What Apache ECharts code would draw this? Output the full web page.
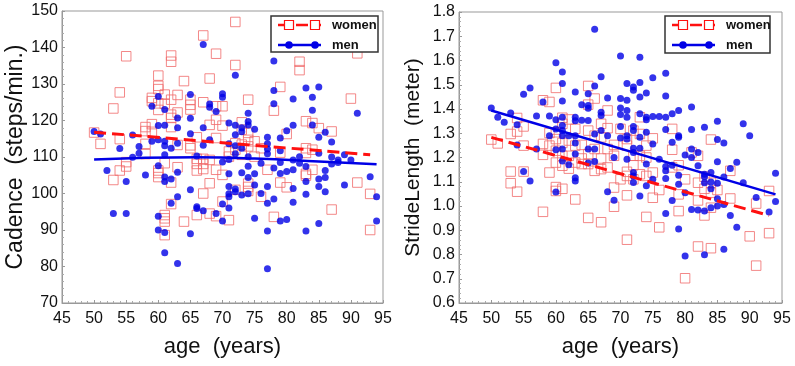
<!DOCTYPE html>
<html><head><meta charset="utf-8">
<script src="https://cdn.jsdelivr.net/npm/echarts@6/dist/echarts.min.js"></script>
<style>html,body{margin:0;padding:0;background:#fff}#c{width:795px;height:366px}</style>
</head><body><div id="c"></div>
<script>
const xTicks = [45,50,55,60,65,70,75,80,85,90,95];
const cadenceTicks = [70,80,90,100,110,120,130,140,150];
const strideTicks = [0.6,0.7,0.8,0.9,1.0,1.1,1.2,1.3,1.4,1.5,1.6,1.7,1.8];
const legendLabels = ['women','men'];

const cadenceMen = [[50,117],[51,116.3],[52,106.3],[53,94.5],[54,112.3],[55,103.3],[55,94.5],[56,109.9],[56,116],[57,112.9],[57,111],[58,105.1],[59,123.9],[59,114.3],[60,126.6],[60,118.6],[60,114.7],[60,107.6],[60,93.8],[60,90],[61,123],[61,118.7],[61,114.3],[61,113.1],[61,110.6],[61,104.5],[61,103.3],[61,89.3],[61,83.8],[62,112.4],[62,104],[62,97.3],[63,120.7],[63,118],[63,113.8],[63,105.8],[63,99.1],[63,80.8],[65,127.1],[65,120.6],[65,116.4],[65,101],[65,89],[66,110.3],[66,96.4],[66,95.9],[67,140.8],[67,118],[67,113.2],[67,95.3],[68,124.5],[68,123.6],[68,114.7],[69,122.5],[69,94.5],[70,127.3],[70,126.4],[70,108.6],[70,97.1],[70,92.5],[71,119.3],[71,113.6],[71,109.3],[71,105.4],[71,101.9],[71,99.9],[71,99.1],[71,96],[72,132.4],[72,118.7],[72,116.1],[72,113.1],[72,110.9],[72,101.2],[72,100.5],[73,118],[73,116.9],[73,112.4],[73,105.7],[73,99.6],[74,122],[74,119.7],[74,118.8],[74,110.1],[74,107.5],[74,104.4],[74,99.9],[75,117.6],[75,105.4],[75,102.3],[75,93.2],[76,108.3],[76,100],[77,115.4],[77,113.6],[77,112.2],[77,110.9],[77,101.9],[77,97.3],[77,89.7],[77,79.4],[78,136.3],[78,128.2],[78,124.6],[78,107],[78,98.5],[79,115.2],[79,111.7],[79,108.5],[79,105.5],[79,92.5],[80,117.2],[80,106],[80,92.9],[81,125.9],[81,118.7],[81,109.2],[81,106.5],[81,101.4],[81,97.6],[82,110.1],[82,108.3],[83,128.9],[83,107.4],[83,103.3],[83,99.8],[83,89.7],[84,126.4],[84,122.8],[84,118.8],[85,129.2],[85,115.4],[85,111],[85,104],[85,101.9],[85,91.8],[86,116.8],[86,106.3],[86,104.4],[86,100.5],[87,114.1],[87,110],[87,108.1],[88,109.2],[88,108.5],[89,110.6],[89,102.3],[90,109.2],[91,122],[93,104.6],[94,99.1],[94,92.5]];

const cadenceWomen = [[50,116.7],[51,113.6],[53,123.3],[53,103.7],[54,127.7],[54,114.9],[54,106.3],[55,137.6],[55,108.6],[55,107.4],[58,118.2],[58,117.1],[58,113.6],[58,110.8],[59,126.2],[59,125.3],[59,119],[59,116.9],[60,132.3],[60,129.5],[60,128.6],[60,124.7],[60,122.9],[60,106.3],[60,105.6],[60,104.5],[61,127.1],[61,124.6],[61,108.3],[61,94.1],[61,93.2],[61,92.3],[61,88.6],[62,137.8],[62,136.1],[62,125.7],[62,121.6],[62,120.7],[62,118.2],[62,103],[62,97.1],[63,127],[63,122.2],[63,113.3],[63,107.2],[64,130.8],[64,92.3],[65,125.7],[65,124.3],[65,123],[65,113.2],[65,112.4],[66,115.4],[66,109.5],[66,108.1],[66,106.3],[66,94.1],[67,143.3],[67,125],[67,109.5],[67,108.1],[67,106.7],[67,100],[68,131.5],[68,118.8],[68,109.2],[68,102.8],[68,94.5],[69,138.3],[69,123.9],[69,120.2],[69,115.2],[69,106.5],[69,93.8],[70,123.9],[70,118.6],[70,105.1],[70,97.8],[71,111.5],[71,110.1],[71,92.7],[72,147],[72,135.2],[72,113.8],[72,112],[72,101],[73,119.5],[73,117.5],[73,113.4],[73,110.6],[74,125.7],[74,116.6],[74,114.7],[74,112.9],[74,102.7],[74,101.8],[74,100.7],[75,114.3],[75,110.1],[76,112.4],[76,99.1],[77,106.5],[78,122.7],[78,93.6],[79,129.2],[79,111.2],[79,103],[80,116.3],[80,101.7],[82,136.1],[82,133.8],[83,119.8],[83,112.4],[83,111.1],[83,105.4],[83,104.9],[84,119.3],[84,112],[84,106.5],[85,117.9],[87,117],[87,95.6],[90,126],[91,138.4],[91,103],[93,99.9],[93,90]];

const strideMen = [[50,1.404],[51,1.366],[52,1.345],[53,1.383],[54,1.335],[54,1.252],[55,1.461],[55,1.142],[56,1.487],[56,1.103],[57,1.371],[57,1.235],[58,1.429],[59,1.371],[59,1.29],[60,1.591],[60,1.356],[60,1.318],[60,1.232],[60,1.058],[61,1.553],[61,1.505],[61,1.433],[61,1.366],[61,1.332],[61,1.311],[61,1.29],[61,1.235],[61,1.186],[62,1.29],[62,1.17],[63,1.47],[63,1.366],[63,1.352],[63,1.29],[63,1.26],[63,1.214],[63,1.117],[63,1.103],[64,1.418],[64,1.354],[65,1.463],[65,1.414],[65,1.403],[65,1.353],[65,1.235],[65,1.177],[66,1.729],[66,1.495],[66,1.297],[66,1.235],[66,1.184],[67,1.533],[67,1.387],[67,1.373],[67,1.311],[68,1.445],[68,1.29],[68,1.059],[69,1.2],[69,1.024],[70,1.619],[70,1.443],[70,1.404],[70,1.377],[70,1.328],[70,1.28],[71,1.505],[71,1.436],[71,1.394],[71,1.366],[71,1.29],[71,1.276],[71,1.193],[72,1.491],[72,1.477],[72,1.328],[72,1.311],[72,1.238],[72,1.221],[72,1.138],[72,1.124],[72,1.097],[73,1.613],[73,1.509],[73,1.45],[73,1.38],[73,1.283],[73,1.238],[73,1.041],[74,1.466],[74,1.366],[74,1.356],[74,1.304],[74,1.173],[74,1.083],[75,1.529],[75,1.369],[75,1.256],[75,1.11],[76,1.369],[76,1.193],[77,1.547],[77,1.454],[77,1.366],[77,1.315],[77,1.163],[77,1.145],[77,1.113],[77,0.969],[78,1.38],[78,1.263],[78,1.168],[78,1.023],[79,1.394],[79,1.29],[79,1.283],[79,1.127],[79,1.09],[79,0.905],[80,1.21],[80,1.055],[80,0.794],[81,1.408],[81,1.315],[81,1.235],[81,1.2],[81,0.986],[82,1.221],[82,1.166],[82,0.983],[83,1.325],[83,1.131],[83,1.121],[83,1.096],[83,0.979],[83,0.799],[84,1.138],[84,1.099],[84,1.071],[84,0.993],[85,1.349],[85,1.274],[85,1.182],[85,1.094],[85,1.03],[85,1.0],[86,1.26],[86,1.12],[86,1.006],[86,0.822],[87,1.155],[87,0.961],[88,1.18],[88,0.912],[89,1.339],[89,1.096],[90,1.29],[91,1.035],[93,0.975],[94,1.135],[94,1.019]];

const strideWomen = [[50,1.274],[51,1.258],[53,1.297],[53,1.142],[53,1.094],[54,1.363],[54,1.307],[54,1.059],[55,1.328],[55,1.249],[55,1.142],[58,1.436],[58,1.256],[58,1.211],[58,0.976],[59,1.429],[59,1.301],[59,1.249],[59,1.138],[60,1.487],[60,1.304],[60,1.276],[60,1.228],[60,1.179],[60,1.078],[60,1.062],[61,1.364],[61,1.339],[61,1.26],[61,1.207],[61,1.166],[61,1.071],[62,1.357],[62,1.27],[62,1.207],[62,1.154],[63,1.318],[63,1.249],[63,1.179],[63,1.027],[64,1.252],[64,1.196],[64,1.173],[65,1.495],[65,1.418],[65,1.311],[65,1.214],[65,1.173],[65,0.951],[66,1.443],[66,1.29],[66,1.235],[66,1.145],[67,1.339],[67,1.283],[67,1.196],[67,1.152],[67,0.933],[68,1.394],[68,1.321],[68,1.235],[68,1.159],[69,1.252],[69,1.207],[69,1.076],[69,0.997],[70,1.318],[70,1.11],[71,1.276],[71,1.249],[71,1.141],[71,1.124],[71,1.044],[71,0.861],[72,1.311],[72,1.207],[72,1.168],[72,1.11],[73,1.366],[73,1.297],[73,1.207],[73,1.131],[74,1.249],[74,1.2],[74,1.124],[74,0.955],[75,1.279],[75,1.138],[75,1.034],[76,1.066],[76,0.912],[78,1.318],[78,1.232],[78,1.159],[79,1.168],[79,1.048],[79,0.979],[80,0.702],[80,1.11],[81,1.221],[82,1.207],[82,1.096],[82,1.023],[82,0.833],[83,1.121],[83,1.071],[83,0.961],[84,1.274],[84,1.096],[84,1.055],[84,0.993],[84,0.826],[85,1.066],[87,1.145],[87,1.031],[90,0.875],[91,1.01],[91,0.754],[93,1.062],[93,0.888]];

const cadenceWomenFit = [[50,116.8],[93,110.6]];
const cadenceMenFit = [[50,109.3],[66,109.9],[75,109.6],[85,108.8],[94,108.0]];
const strideWomenFit = [[50,1.283],[93,0.961]];
const strideMenFit = [[50,1.394],[94,1.048]];

const NARROW = "'Liberation Sans Narrow','Arial Narrow','Liberation Sans',Arial,sans-serif";
const SANS = "'Liberation Sans',Arial,sans-serif";
const RED = '#ff1010', BLUE = '#0000e6', SQ = '#f06a6a';

function xAxisDef(gi){
  return {gridIndex:gi, type:'value', min:xTicks[0], max:xTicks[xTicks.length-1], interval:5,
    name:'age  (years)', nameLocation:'middle', nameGap:33,
    nameTextStyle:{fontFamily:NARROW, fontSize:22, color:'#111'},
    axisLine:{show:true, onZero:false, lineStyle:{color:'#999'}},
    axisTick:{show:true, inside:true, length:3, lineStyle:{color:'#999'}},
    minorTick:{show:true, splitNumber:5, length:2, lineStyle:{color:'#aaa'}},
    axisLabel:{fontFamily:NARROW, fontSize:16, color:'#111', margin:8},
    splitLine:{show:false}};
}
function yAxisDef(gi, ticks, name, fs, gap, fmt){
  return {gridIndex:gi, type:'value', min:ticks[0], max:ticks[ticks.length-1], interval:ticks[1]-ticks[0],
    name:name, nameLocation:'middle', nameGap:gap,
    nameTextStyle:{fontFamily:SANS, fontSize:fs, color:'#111'},
    axisLine:{show:true, onZero:false, lineStyle:{color:'#999'}},
    axisTick:{show:true, inside:true, length:3, lineStyle:{color:'#999'}},
    minorTick:{show:true, splitNumber:5, length:2, lineStyle:{color:'#aaa'}},
    axisLabel:{fontFamily:NARROW, fontSize:16, color:'#111', margin:4, formatter:fmt},
    splitLine:{show:false}};
}
function scatterW(gi, data){
  return {type:'scatter', xAxisIndex:gi, yAxisIndex:gi, data:data, symbol:'rect', symbolSize:9.5,
    itemStyle:{color:'rgba(255,255,255,0)', borderColor:SQ, borderWidth:1}, z:2, silent:true};
}
function scatterM(gi, data){
  return {type:'scatter', xAxisIndex:gi, yAxisIndex:gi, data:data, symbol:'circle', symbolSize:7,
    itemStyle:{color:BLUE}, z:3, silent:true};
}
function fitLine(gi, data, color, dashed, w){
  return {type:'line', xAxisIndex:gi, yAxisIndex:gi, data:data, showSymbol:false, smooth:true,
    lineStyle:{color:color, width:w, type: dashed ? [12,6] : 'solid'}, z:4, silent:true};
}
function legendGraphic(x, y, w, h){
  const lx0 = x+7, lx1 = x+50, s1 = x+18, s2 = x+44, ty = x+61;
  return [
    {type:'rect', shape:{x:x, y:y, width:w, height:h}, style:{fill:'#fff', stroke:'#333', lineWidth:1.5}, z:100},
    {type:'line', shape:{x1:lx0, y1:y+9, x2:lx1, y2:y+9}, style:{stroke:RED, lineWidth:2.5, lineDash:[12,6]}, z:101},
    {type:'rect', shape:{x:s1-4.5, y:y+4.5, width:9, height:9}, style:{fill:'#fff', stroke:RED, lineWidth:1.2}, z:102},
    {type:'rect', shape:{x:s2-4.5, y:y+4.5, width:9, height:9}, style:{fill:'#fff', stroke:RED, lineWidth:1.2}, z:102},
    {type:'line', shape:{x1:lx0, y1:y+29, x2:lx1, y2:y+29}, style:{stroke:BLUE, lineWidth:2.5}, z:101},
    {type:'circle', shape:{cx:s1, cy:y+29, r:3.8}, style:{fill:BLUE}, z:102},
    {type:'circle', shape:{cx:s2, cy:y+29, r:3.8}, style:{fill:BLUE}, z:102},
    {type:'text', x:ty, y:y+9, style:{text:legendLabels[0], font:'bold 13px '+SANS, fill:'#111', verticalAlign:'middle'}, z:103},
    {type:'text', x:ty, y:y+29, style:{text:legendLabels[1], font:'bold 13px '+SANS, fill:'#111', verticalAlign:'middle'}, z:103}
  ];
}

const chart = echarts.init(document.getElementById('c'), null, {renderer:'canvas'});
chart.setOption({
  animation:false,
  backgroundColor:'#fff',
  grid:[
    {left:62, top:11, width:321, height:292, show:true, borderColor:'#999', borderWidth:1},
    {left:459, top:12, width:323, height:291, show:true, borderColor:'#999', borderWidth:1}
  ],
  xAxis:[xAxisDef(0), xAxisDef(1)],
  yAxis:[
    yAxisDef(0, cadenceTicks, 'Cadence  (steps/min.)', 23, 35, v => String(v)),
    yAxisDef(1, strideTicks, 'StrideLength  (meter)', 21, 35, v => v.toFixed(1))
  ],
  series:[
    scatterW(0, cadenceWomen), scatterM(0, cadenceMen),
    fitLine(0, cadenceWomenFit, RED, true, 3), fitLine(0, cadenceMenFit, BLUE, false, 2.5),
    scatterW(1, strideWomen), scatterM(1, strideMen),
    fitLine(1, strideWomenFit, RED, true, 3), fitLine(1, strideMenFit, BLUE, false, 2.5)
  ],
  graphic: legendGraphic(271, 16, 107, 36).concat(legendGraphic(665, 16, 105, 37))
});
</script></body></html>
